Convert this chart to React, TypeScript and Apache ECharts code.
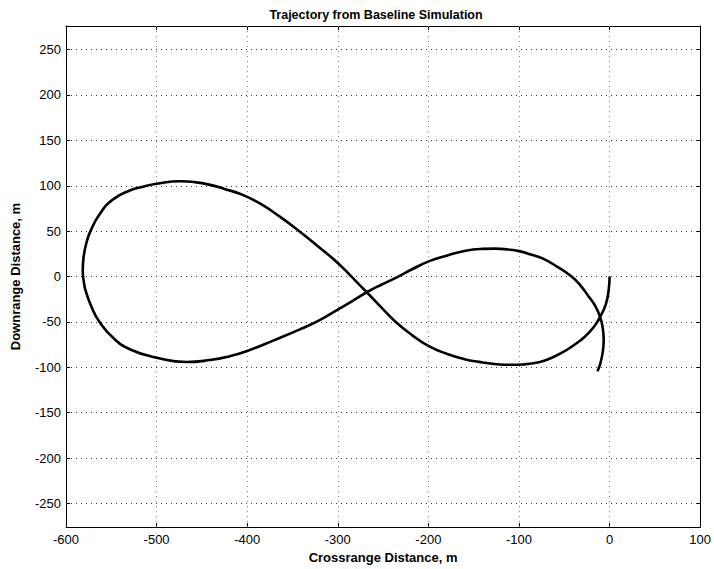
import React, { useEffect, useRef } from "react";
import * as echarts from "echarts";

const crossrange = [
  0, -1, -4, -10.4, -17, -27, -40, -53, -65, -78, -95, -110, -127, -144, -160, -180, -199, -218, -236, -252,
  -268, -284, -300, -322, -342.5, -364, -385, -405, -425, -441, -458, -474, -500, -515, -529, -548, -562, -573,
  -578, -580.5, -581.5, -580, -578.5, -572, -563, -548, -529, -500, -467, -441, -420, -400, -370, -342.5, -320,
  -300, -284, -268, -252, -236, -218, -199, -180, -159, -140, -126, -112, -100, -86, -74, -58, -41.6, -32, -23.3,
  -16, -10.4, -7.5, -6.5, -7.5, -10, -13.4,
];
const downrange = [
  0, -15, -30, -44.4, -55, -66, -76, -84.2, -90, -94.5, -96.8, -97.2, -96.3, -94, -91, -85, -77, -64.5, -50, -34,
  -17.3, -1, 15, 33.5, 50, 66, 80, 90, 96.5, 101, 104, 105, 102.2, 99, 95, 85, 70, 50,
  35, 22, 7, -8, -15, -33, -50, -67.5, -80.3, -89.4, -94.2, -92, -88, -82, -70, -58.5, -48,
  -36.4, -27, -17.3, -9, -1.4, 8, 17, 23, 28.5, 30.5, 30.8, 29.8, 28, 24, 20, 11, -0.3, -10, -21.7,
  -32, -44.4, -57, -69.5, -83, -95, -104.4,
];
const xTicks = [-600, -500, -400, -300, -200, -100, 0, 100];
const yTicks = [-250, -200, -150, -100, -50, 0, 50, 100, 150, 200, 250];

const FONT = "'Liberation Sans', Arial, Helvetica, sans-serif";

export default function App() {
  const ref = useRef<HTMLDivElement>(null);
  useEffect(() => {
    if (!ref.current) return;
    const chart = echarts.init(ref.current, null, { renderer: "svg" });
    const data = crossrange.map((x, i) => [x, downrange[i]]);
    const vGrid = { color: "#777", width: 1, type: [1, 4] as any };
    const hGrid = { color: "#333", width: 1, type: [1, 4] as any };
    const yRange = { min: -276, max: 276 };
    chart.setOption({
      animation: false,
      backgroundColor: "#fff",
      title: {
        text: "Trajectory from Baseline Simulation",
        left: 371,
        top: 3,
        textAlign: "center",
        textStyle: { fontFamily: FONT, fontSize: 12.5, fontWeight: "bold", color: "#000" },
      },
      grid: { left: 66, right: 12, top: 26, bottom: 41, containLabel: false },
      xAxis: [
        {
          type: "value",
          min: -600,
          max: 100,
          interval: 100,
          position: "bottom",
          name: "Crossrange Distance, m",
          nameLocation: "middle",
          nameGap: 15,
          nameTextStyle: { fontFamily: FONT, fontSize: 13, fontWeight: "bold", color: "#000" },
          axisLine: { show: true, onZero: false, lineStyle: { color: "#000", width: 1 } },
          axisTick: { show: true, inside: true, length: 4, lineStyle: { color: "#000" } },
          axisLabel: { fontFamily: FONT, fontSize: 13, color: "#000", margin: 6 },
          splitLine: { show: false },
        },
        {
          type: "value",
          min: -600,
          max: 100,
          interval: 100,
          position: "top",
          axisLine: { show: true, onZero: false, lineStyle: { color: "#000", width: 1 } },
          axisTick: { show: true, inside: true, length: 4, lineStyle: { color: "#000" } },
          axisLabel: { show: false },
          splitLine: { show: false },
        },
      ],
      yAxis: [
        {
          type: "value",
          ...yRange,
          position: "left",
          name: "Downrange Distance, m",
          nameLocation: "middle",
          nameGap: 44,
          nameRotate: 90,
          nameTextStyle: { fontFamily: FONT, fontSize: 13, fontWeight: "bold", color: "#000" },
          axisLine: { show: true, onZero: false, lineStyle: { color: "#000", width: 1 } },
          axisTick: { show: true, inside: true, length: 4, customValues: yTicks, lineStyle: { color: "#000" } },
          axisLabel: { fontFamily: FONT, fontSize: 13, color: "#000", margin: 5, customValues: yTicks },
          splitLine: { show: false },
        },
        {
          type: "value",
          ...yRange,
          position: "right",
          axisLine: { show: true, onZero: false, lineStyle: { color: "#000", width: 1 } },
          axisTick: { show: true, inside: true, length: 4, customValues: yTicks, lineStyle: { color: "#000" } },
          axisLabel: { show: false, customValues: yTicks },
          splitLine: { show: false },
        },
      ],
      series: [
        {
          type: "line",
          xAxisIndex: 0,
          yAxisIndex: 0,
          data: [],
          silent: true,
          markLine: {
            silent: true,
            symbol: ["none", "none"],
            label: { show: false },
            data: [
              ...xTicks.slice(1, -1).map((v) => ({ xAxis: v, lineStyle: vGrid })),
              ...yTicks.map((v) => ({ yAxis: v, lineStyle: hGrid })),
            ],
          },
        },
        {
          type: "line",
          xAxisIndex: 0,
          yAxisIndex: 0,
          data,
          smooth: 0.5,
          showSymbol: false,
          symbol: "none",
          lineStyle: { color: "#000", width: 2.6 },
          z: 5,
        },
      ],
    });
    return () => chart.dispose();
  }, []);
  return <div ref={ref} style={{ position: "fixed", left: 0, top: 0, width: 714, height: 569 }} />;
}
